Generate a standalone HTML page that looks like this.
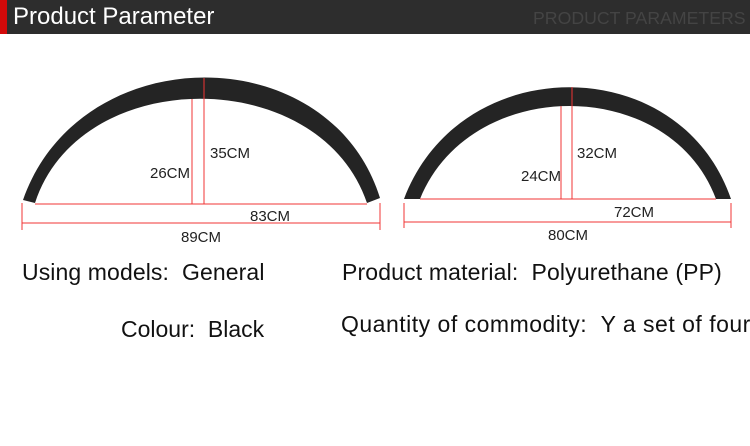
<!DOCTYPE html>
<html><head><meta charset="utf-8"><style>
body{margin:0;width:750px;height:446px;background:#fff;overflow:hidden;font-family:"Liberation Sans",sans-serif;position:relative}
.hdr{position:absolute;left:0;top:0;width:750px;height:34px;background:#2d2d2d}
.red{position:absolute;left:0;top:0;width:7px;height:34px;background:#d20a0a}
.t{position:absolute;left:13px;top:3px;color:#fff;font-size:24px}
.t2{position:absolute;left:533px;top:8px;color:#444;font-size:17.7px}
.info{position:absolute;font-size:23px;color:#111;white-space:pre}
</style></head><body>
<div class="hdr"></div>
<div class="red"></div>
<div class="t">Product Parameter</div>
<div class="t2">PRODUCT PARAMETERS</div>
<svg width="750" height="446" style="position:absolute;left:0;top:0">
<g>
<path d="M23,200 C80,37 330,37 380,198 L367,203 C320,64 80,64 35,203 Z" fill="#242424"/>
</g>
<g stroke="#f03434" stroke-width="1" fill="none">
<line x1="204" y1="78" x2="204" y2="204"/><line x1="192" y1="99" x2="192" y2="204"/>
<line x1="35" y1="204" x2="367" y2="204"/><line x1="22" y1="223" x2="380" y2="223"/>
<line x1="22" y1="203" x2="22" y2="230"/><line x1="380" y1="203" x2="380" y2="230"/>
</g>
<g font-family="Liberation Sans" font-size="15" fill="#222">
<text x="210" y="158">35CM</text>
<text x="150" y="178">26CM</text>
<text x="250" y="221">83CM</text>
<text x="181" y="242">89CM</text>
</g>
<g>
<path d="M404,199 C460,50 680,50 731,199 L716,199 C670,75 470,75 420,199 Z" fill="#242424"/>
</g>
<g stroke="#f03434" stroke-width="1" fill="none">
<line x1="572" y1="87" x2="572" y2="199"/><line x1="561" y1="106" x2="561" y2="199"/>
<line x1="420" y1="199" x2="716" y2="199"/><line x1="404" y1="222" x2="731" y2="222"/>
<line x1="404" y1="203" x2="404" y2="228"/><line x1="731" y1="203" x2="731" y2="228"/>
</g>
<g font-family="Liberation Sans" font-size="15" fill="#222">
<text x="577" y="158">32CM</text>
<text x="521" y="181">24CM</text>
<text x="614" y="217">72CM</text>
<text x="548" y="240">80CM</text>
</g>
</svg>
<div class="info" style="left:22px;top:259px;letter-spacing:0.1px">Using models:  General</div>
<div class="info" style="left:342px;top:259px;letter-spacing:0.15px">Product material:  Polyurethane (PP)</div>
<div class="info" style="left:121px;top:316px">Colour:  Black</div>
<div class="info" style="left:341px;top:311px;letter-spacing:0.5px">Quantity of commodity:  Y a set of four</div>
</body></html>
